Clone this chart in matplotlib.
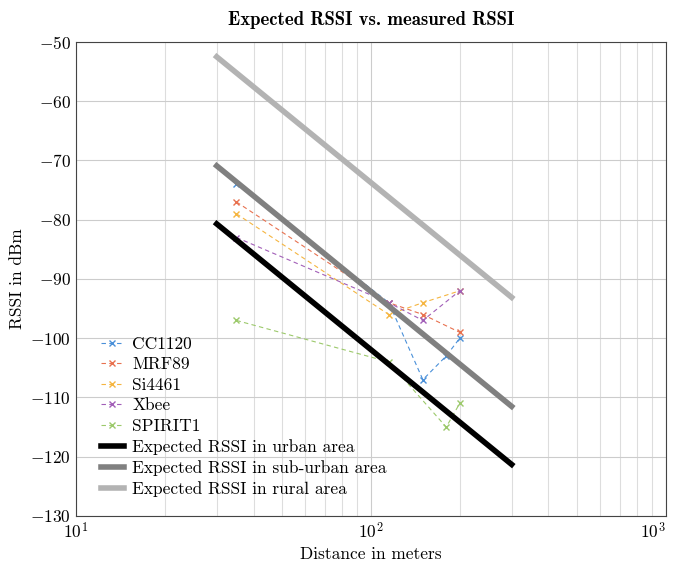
import matplotlib.pyplot as plt

plt.rcParams['font.family'] = 'serif'
plt.rcParams['font.serif'] = ['cmr10', 'DejaVu Serif']
plt.rcParams['mathtext.fontset'] = 'cm'
plt.rcParams['axes.formatter.use_mathtext'] = True

# measured RSSI per radio module (distance in m, RSSI in dBm)
dist = [35, 115, 150, 200]
dist_cc = [35, 115, 150, 180, 200]
dist_spirit = [35, 115, 180, 200]

cc1120 = [-74, -94, -107, -103, -100]
mrf89 = [-77, -94, -96, -99]
si4461 = [-79, -96, -94, -92]
xbee = [-83, -94, -97, -92]
spirit1 = [-97, -104, -115, -111]

# expected RSSI (path loss model) at 30 m and 300 m
dist_model = [30, 300]
urban = [-80.7, -121.3]
suburban = [-70.9, -111.5]
rural = [-52.5, -93.1]

fig = plt.figure(figsize=(6.76, 5.62), dpi=100)
ax = fig.add_axes([0.1124, 0.0819, 0.8726, 0.8434])

meas_style = dict(linestyle='--', marker='x', linewidth=0.8, markersize=5, dashes=(4, 3))
ax.plot(dist_cc, cc1120, color='#4a90d9', label='CC1120', **meas_style)
ax.plot(dist, mrf89, color='#e8714f', label='MRF89', **meas_style)
ax.plot(dist, si4461, color='#f5b540', label='Si4461', **meas_style)
ax.plot(dist, xbee, color='#a25fb8', label='Xbee', **meas_style)
ax.plot(dist_spirit, spirit1, color='#9cc96b', label='SPIRIT1', **meas_style)

ax.plot(dist_model, urban, color='black', linewidth=4, label='Expected RSSI in urban area')
ax.plot(dist_model, suburban, color='#808080', linewidth=4, label='Expected RSSI in sub-urban area')
ax.plot(dist_model, rural, color='#b3b3b3', linewidth=4, label='Expected RSSI in rural area')

ax.set_xscale('log')
ax.set_xlim(10, 1000)
ax.set_ylim(-130, -50)
ax.set_xticks([10, 100, 1000], [r'$10^1$', r'$10^2$', r'$10^3$'])
ax.set_yticks(range(-130, -49, 10))

ax.grid(True, which='major', color='#cccccc', linewidth=0.8)
ax.grid(True, which='minor', axis='x', color='#dddddd', linewidth=0.8)
ax.set_axisbelow(True)
ax.tick_params(which='both', length=0, labelsize=12.5)
for s in ax.spines.values():
    s.set_color('#444444')

# 10^3 sits at the right edge of the figure
ax.get_xticklabels()[-1].set_horizontalalignment('right')

ax.set_title('Expected RSSI vs. measured RSSI', fontsize=13.5, family='cmb10', pad=12)
ax.set_xlabel('Distance in meters', fontsize=12.5)
ax.set_ylabel('RSSI in dBm', fontsize=12.5)

ax.legend(loc='lower left', frameon=False, fontsize=12.5, handlelength=1.3,
          handletextpad=0.5, labelspacing=0.3, borderaxespad=0.7,
          bbox_to_anchor=(0.01, 0.0))

fig.savefig('out.png', dpi=100)
